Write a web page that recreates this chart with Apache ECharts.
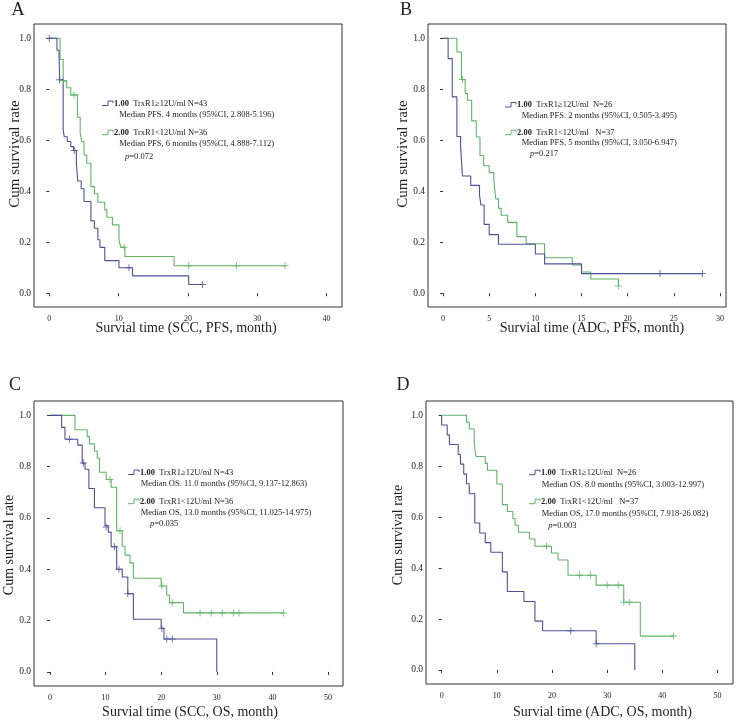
<!DOCTYPE html>
<html><head><meta charset="utf-8">
<script src="https://cdn.jsdelivr.net/npm/echarts@6/dist/echarts.min.js"></script>
<style>html,body{margin:0;padding:0;background:#fff}#c{width:739px;height:721px}</style>
</head><body><div id="c"></div>
<script>
// ---- Panel A: SCC, PFS ----
const A_high = [[0,1],[1.1,0.953],[1.4,0.93],[1.5,0.837],[2.0,0.64],[2.15,0.614],[2.6,0.595],[3.1,0.575],[3.5,0.56],[3.9,0.51],[4.1,0.44],[4.6,0.41],[5.0,0.36],[6.0,0.284],[6.5,0.255],[7.0,0.21],[7.3,0.18],[8.0,0.128],[10.05,0.10],[12.0,0.068],[20.1,0.034],[22.1,0.034]];
const A_high_cens = [[0,1],[1.45,0.837],[3.6,0.56],[11.5,0.10],[22.1,0.034]];
const A_low = [[0,1],[1.55,0.917],[2.0,0.833],[2.5,0.806],[3.1,0.778],[4.05,0.69],[4.45,0.627],[4.7,0.595],[5.0,0.542],[5.4,0.51],[6.0,0.418],[6.5,0.39],[7.0,0.357],[8.0,0.327],[8.3,0.298],[9.1,0.268],[10.05,0.209],[10.3,0.18],[10.9,0.144],[18.0,0.108],[34.0,0.108]];
const A_low_cens = [[2.05,0.833],[3.55,0.778],[10.8,0.18],[20.1,0.108],[27.0,0.108],[34.0,0.108]];
// ---- Panel B: ADC, PFS ----
const B_high = [[0,1],[0.55,0.92],[1.0,0.77],[1.5,0.615],[1.9,0.577],[2.1,0.46],[3.0,0.423],[3.95,0.385],[4.1,0.346],[4.45,0.27],[5.0,0.23],[6.0,0.192],[10.0,0.154],[11.0,0.115],[15.0,0.077],[28.1,0.077]];
const B_high_cens = [[23.5,0.077],[28.1,0.077]];
const B_low = [[0,1],[1.5,0.946],[2.0,0.838],[2.4,0.784],[2.65,0.757],[3.1,0.676],[3.6,0.613],[4.0,0.54],[4.4,0.50],[5.0,0.473],[5.5,0.446],[5.7,0.37],[6.0,0.333],[6.3,0.306],[7.0,0.278],[8.0,0.222],[9.0,0.194],[11.0,0.139],[14.0,0.111],[15.0,0.083],[16.0,0.056],[19.0,0.028]];
const B_low_cens = [[2.1,0.838],[19.0,0.028]];
// ---- Panel C: SCC, OS ----
const C_high = [[0,1],[2.1,0.953],[2.7,0.907],[5.0,0.884],[5.8,0.814],[6.3,0.79],[7.0,0.715],[8.0,0.64],[9.9,0.57],[10.5,0.545],[11.0,0.488],[12.0,0.40],[13.0,0.37],[14.0,0.305],[15.0,0.205],[20.0,0.17],[20.5,0.128],[30.0,0]];
const C_high_cens = [[3.5,0.907],[6.0,0.814],[10.1,0.565],[11.6,0.488],[12.4,0.40],[14.0,0.305],[20.1,0.17],[21.0,0.128],[22.0,0.128]];
const C_low = [[0,1],[4.5,0.944],[6.7,0.917],[7.1,0.889],[8.0,0.861],[8.5,0.833],[8.9,0.778],[10.1,0.75],[11.0,0.72],[12.0,0.55],[13.0,0.49],[13.5,0.455],[14.4,0.425],[15.0,0.365],[20.0,0.335],[21.0,0.30],[21.5,0.27],[24.0,0.23],[42.0,0.23]];
const C_low_cens = [[10.8,0.75],[12.6,0.55],[20.1,0.335],[22.0,0.27],[27.0,0.23],[29.0,0.23],[31.0,0.23],[33.0,0.23],[34.0,0.23],[42.0,0.23]];
// ---- Panel D: ADC, OS ----
const D_high = [[0,1],[0,0.962],[1.0,0.923],[1.4,0.885],[3.0,0.846],[3.4,0.808],[4.0,0.769],[4.5,0.731],[5.0,0.692],[6.0,0.577],[6.9,0.538],[7.9,0.50],[8.9,0.462],[11.0,0.385],[11.9,0.308],[14.9,0.269],[16.9,0.192],[18.3,0.154],[28.0,0.103],[35.0,0]];
const D_high_cens = [[23.4,0.154],[28.0,0.103]];
const D_low = [[0,1],[4.5,0.973],[5.0,0.946],[5.9,0.892],[6.2,0.838],[7.9,0.811],[8.3,0.784],[10.0,0.73],[11.0,0.649],[11.9,0.622],[12.9,0.595],[13.3,0.568],[13.9,0.541],[15.9,0.514],[16.9,0.486],[19.9,0.459],[21.1,0.432],[22.9,0.372],[28.0,0.333],[33.0,0.266],[36.0,0.133],[42.1,0.133]];
const D_low_cens = [[19.0,0.486],[25.0,0.372],[27.0,0.372],[30.0,0.333],[32.0,0.333],[33.0,0.266],[34.0,0.266],[42.0,0.133]];

const yTicks = [0, 0.2, 0.4, 0.6, 0.8, 1.0];
const xTicksA = [0, 10, 20, 30, 40];
const xTicksB = [0, 5, 10, 15, 20, 25, 30];
const xTicksCD = [0, 10, 20, 30, 40, 50];

const letters = ['A', 'B', 'C', 'D'];
const xTitles = ['Survial time (SCC, PFS, month)', 'Survial time (ADC, PFS, month)', 'Survial time (SCC, OS, month)', 'Survial time (ADC, OS, month)'];
const yTitle = 'Cum survival rate';
const legHigh = ['TrxR1\u226512U/ml N=43', 'TrxR1\u226512U/ml  N=26', 'TrxR1\u226512U/ml N=43', 'TrxR1\u226512U/ml  N=26'];
const legLow = ['TrxR1<12U/ml N=36', 'TrxR1<12U/ml   N=37', 'TrxR1<12U/ml N=36', 'TrxR1<12U/ml   N=37'];
const medHigh = ['Median PFS. 4 months (95%CI, 2.808-5.196)', 'Median PFS. 2 months (95%CI, 0.505-3.495)', 'Median OS. 11.0 months (95%CI, 9.137-12.863)', 'Median OS. 8.0 months (95%CI, 3.003-12.997)'];
const medLow = ['Median PFS, 6 months (95%CI, 4.888-7.112)', 'Median PFS, 5 months (95%CI, 3.050-6.947)', 'Median OS, 13.0 months (95%CI, 11.025-14.975)', 'Median OS, 17.0 months (95%CI, 7.918-26.082)'];
const pVals = ['0.072', '0.217', '0.035', '0.003'];

const BLUE = '#4d5196', GREEN = '#5fb565', INK = '#222';
const FONT = '"Liberation Serif", "Times New Roman", serif';

const layout = [
  {grid:{left:34, top:24, width:308, height:283}, xmin:-2.21, xmax:42.22, ymin:-0.054, ymax:1.056, ticks:xTicksA,
   letter:[18,10], yT:[15,154,15], xT:[186,328], leg:[102,103.5,119.3,115,132.7,143.3,125,156.7]},
  {grid:{left:428, top:24, width:298, height:283}, xmin:-1.63, xmax:30.65, ymin:-0.054, ymax:1.056, ticks:xTicksB,
   letter:[406,10], yT:[403.5,154,15], xT:[592,328], leg:[505,105,521.7,115.7,132.7,142.7,530,154]},
  {grid:{left:34, top:401, width:309, height:285}, xmin:-2.87, xmax:52.7, ymin:-0.055, ymax:1.056, ticks:xTicksCD,
   letter:[15,385], yT:[9,545,14], xT:[190,712], leg:[128,472.5,140.7,484,501.7,512.7,150,523.3]},
  {grid:{left:426, top:401, width:307, height:283}, xmin:-2.84, xmax:52.8, ymin:-0.055, ymax:1.056, ticks:xTicksCD,
   letter:[403,385], yT:[398,535,14], xT:[602.5,712], leg:[529,472.7,541.7,485,501.7,513.3,548.3,526]}
];
const data = [
  [A_high, A_high_cens, A_low, A_low_cens],
  [B_high, B_high_cens, B_low, B_low_cens],
  [C_high, C_high_cens, C_low, C_low_cens],
  [D_high, D_high_cens, D_low, D_low_cens]
];

const PLUS = 'path://M3,0h1v7h-1z M0,3h7v1h-7z';
const grids = [], xAxes = [], yAxes = [], series = [], graphics = [];
layout.forEach((L, i) => {
  grids.push(Object.assign({show:true, borderColor:'#333', borderWidth:1, backgroundColor:'#fff'}, L.grid));
  xAxes.push({type:'value', gridIndex:i, min:L.xmin, max:L.xmax, offset:2,
    axisLine:{show:false}, splitLine:{show:false},
    axisTick:{show:true, length:3, customValues:L.ticks, lineStyle:{color:'#333'}},
    axisLabel:{customValues:L.ticks, fontFamily:FONT, fontSize:8, color:INK, margin:6}});
  yAxes.push({type:'value', gridIndex:i, min:L.ymin, max:L.ymax,
    axisLine:{show:false}, splitLine:{show:false},
    axisTick:{show:true, length:3, customValues:yTicks, lineStyle:{color:'#333'}},
    axisLabel:{customValues:yTicks, fontFamily:FONT, fontSize:9.5, color:INK, margin:3, formatter:v => v.toFixed(1)}});
  const [hi, hiC, lo, loC] = data[i];
  series.push({type:'line', step:'end', xAxisIndex:i, yAxisIndex:i, data:hi, showSymbol:false, lineStyle:{color:BLUE, width:1.1}, z:3, animation:false});
  series.push({type:'line', step:'end', xAxisIndex:i, yAxisIndex:i, data:lo, showSymbol:false, lineStyle:{color:GREEN, width:1.1}, z:2, animation:false});
  series.push({type:'scatter', xAxisIndex:i, yAxisIndex:i, data:hiC, symbol:PLUS, symbolSize:7, itemStyle:{color:BLUE}, z:4, animation:false});
  series.push({type:'scatter', xAxisIndex:i, yAxisIndex:i, data:loC, symbol:PLUS, symbolSize:7, itemStyle:{color:GREEN}, z:4, animation:false});

  graphics.push({type:'text', x:L.letter[0], y:L.letter[1], style:{text:letters[i], font:'18px '+FONT, fill:INK, textAlign:'center', textVerticalAlign:'middle'}});
  graphics.push({type:'text', x:L.yT[0], y:L.yT[1], rotation:Math.PI/2, style:{text:yTitle, font:L.yT[2]+'px '+FONT, fill:INK, textAlign:'center', textVerticalAlign:'middle'}});
  graphics.push({type:'text', x:L.xT[0], y:L.xT[1], style:{text:xTitles[i], font:'14px '+FONT, fill:INK, textAlign:'center', textVerticalAlign:'middle'}});
  const g = L.leg; const gx = g[0];
  const sym = (y, c) => ({type:'polyline', shape:{points:[[gx,y+2],[gx+6,y+2],[gx+6,y-2.5],[gx+11,y-2.5],[gx+11,y-0.5]]}, style:{stroke:c, lineWidth:1, fill:null}});
  graphics.push(sym(g[1], BLUE));
  graphics.push(sym(g[4], GREEN));
  const rich = {b:{fontWeight:'bold', fontFamily:FONT, fontSize:8.5, fill:INK}, i:{fontStyle:'italic', fontFamily:FONT, fontSize:8.5, fill:INK}};
  graphics.push({type:'text', x:gx+12, y:g[1], style:{text:'{b|1.00}  '+legHigh[i], rich:rich, font:'8.5px '+FONT, fill:INK, textVerticalAlign:'middle'}});
  graphics.push({type:'text', x:g[2], y:g[3], style:{text:medHigh[i], font:'8.5px '+FONT, fill:INK, textVerticalAlign:'middle'}});
  graphics.push({type:'text', x:gx+12, y:g[4], style:{text:'{b|2.00}  '+legLow[i], rich:rich, font:'8.5px '+FONT, fill:INK, textVerticalAlign:'middle'}});
  graphics.push({type:'text', x:g[2], y:g[5], style:{text:medLow[i], font:'8.5px '+FONT, fill:INK, textVerticalAlign:'middle'}});
  graphics.push({type:'text', x:g[6], y:g[7], style:{text:'{i|p}=' + pVals[i], rich:rich, font:'8.5px '+FONT, fill:INK, textVerticalAlign:'middle'}});
});

const chart = echarts.init(document.getElementById('c'), null, {renderer:'canvas'});
chart.setOption({animation:false, backgroundColor:'#fff', grid:grids, xAxis:xAxes, yAxis:yAxes, series:series, graphic:graphics});
</script></body></html>
